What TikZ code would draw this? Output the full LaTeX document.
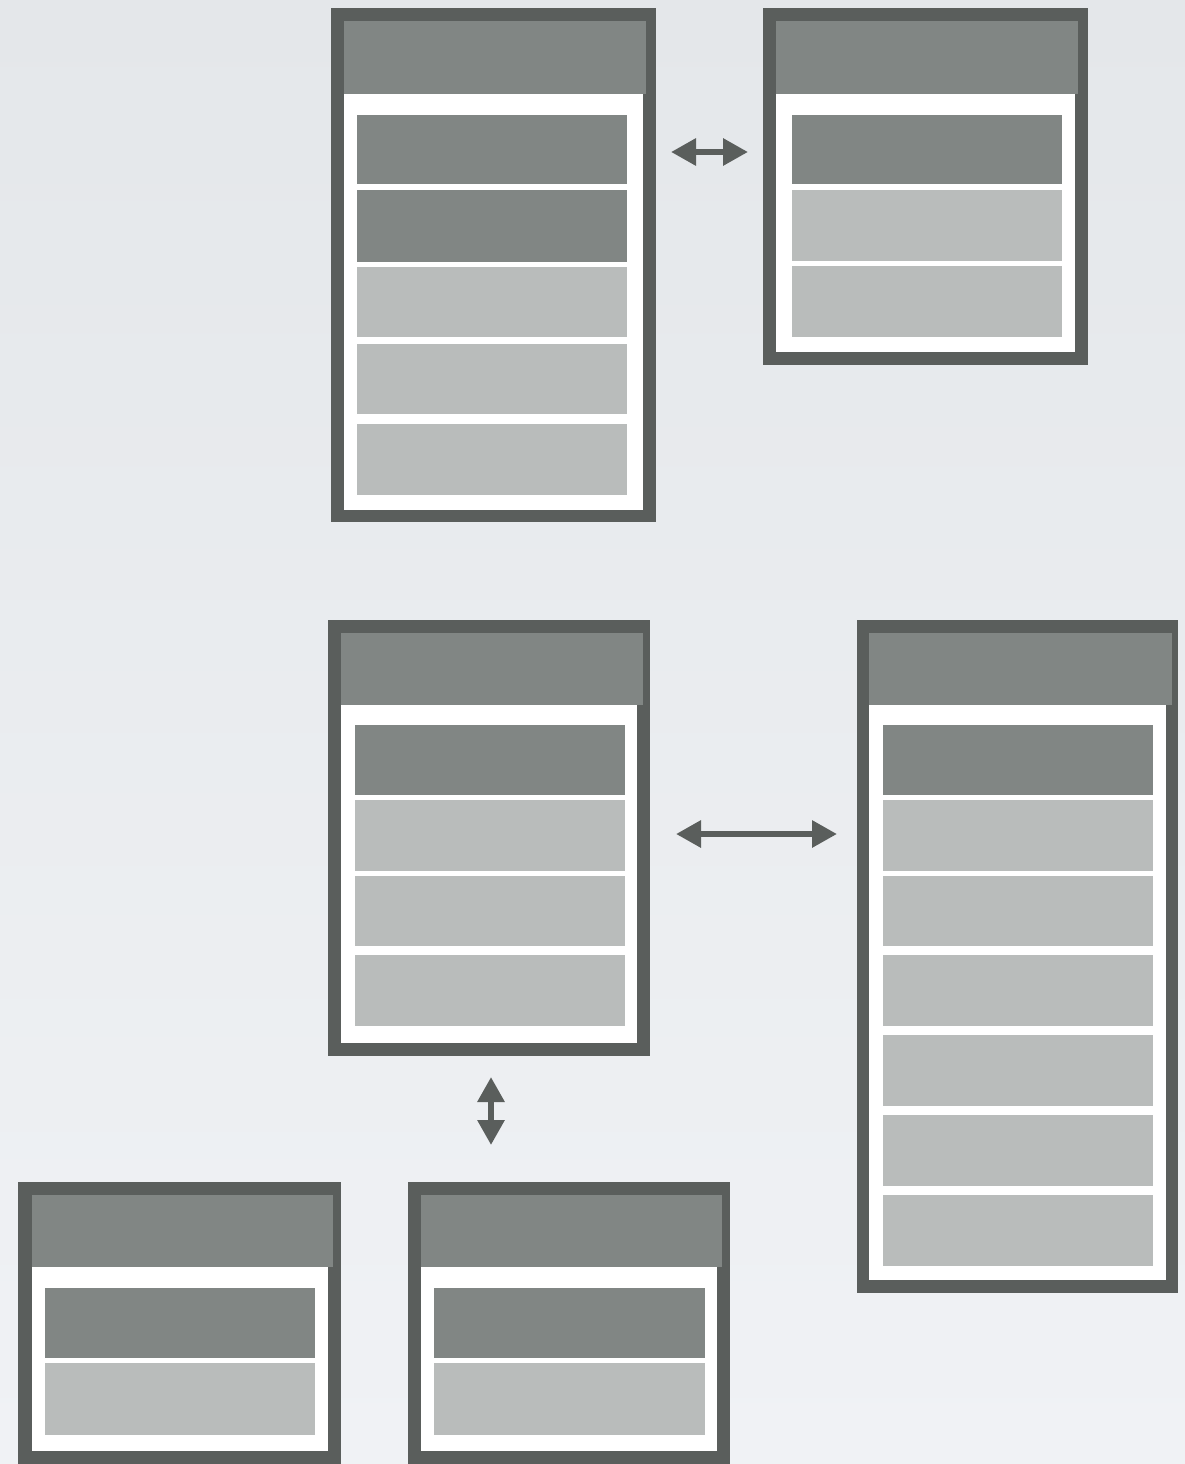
\documentclass[tikz,border=0pt]{standalone}
\usetikzlibrary{arrows.meta}
\definecolor{bgtop}{HTML}{E4E7EA}
\definecolor{bgbot}{HTML}{F0F2F5}
\definecolor{framec}{HTML}{5A5E5C}
\definecolor{darkrow}{HTML}{818684}
\definecolor{lightrow}{HTML}{B9BCBB}
\tikzset{
  blk/.style={rectangle, draw=none, inner sep=0pt, outer sep=0pt},
  frame/.style={blk, fill=framec},
  inner/.style={blk, fill=white},
  header/.style={blk, fill=darkrow},
  drow/.style={blk, fill=darkrow},
  lrow/.style={blk, fill=lightrow},
  conn/.style={draw=framec, line width=6pt,
    {Triangle[length=25pt,width=26pt]}-{Triangle[length=25pt,width=26pt]}}
}
\newcommand{\pbox}[6]{%
  \pgfmathsetmacro{\pbw}{#5-#3}\pgfmathsetmacro{\pbh}{#6-#4}%
  \node[#2, anchor=north west, minimum width=\pbw pt, minimum height=\pbh pt] (#1) at (#3,#4) {};}
\begin{document}
\begin{tikzpicture}[x=1pt,y=-1pt]
\useasboundingbox (0,0) rectangle (1185,1464);
\clip (0,0) rectangle (1185,1464);
\fill[top color=bgtop, bottom color=bgbot] (0,0) rectangle (1185,1464);

% Table 1
\pbox{t1}{frame}{331}{8}{656}{522}
\pbox{t1w}{inner}{344}{21}{643}{510}
\pbox{t1h}{header}{344}{21}{646}{94}
\pbox{t1r1}{drow}{357}{115}{627}{184}
\pbox{t1r2}{drow}{357}{190}{627}{262}
\pbox{t1r3}{lrow}{357}{267}{627}{337}
\pbox{t1r4}{lrow}{357}{344}{627}{414}
\pbox{t1r5}{lrow}{357}{424}{627}{495}

% Table 2
\pbox{t2}{frame}{763}{8}{1088}{365}
\pbox{t2w}{inner}{776}{21}{1075}{352}
\pbox{t2h}{header}{776}{21}{1078}{94}
\pbox{t2r1}{drow}{792}{115}{1062}{184}
\pbox{t2r2}{lrow}{792}{190}{1062}{261}
\pbox{t2r3}{lrow}{792}{266}{1062}{337}

% Table 3
\pbox{t3}{frame}{328}{620}{650}{1056}
\pbox{t3w}{inner}{341}{633}{637}{1043}
\pbox{t3h}{header}{341}{633}{643}{705}
\pbox{t3r1}{drow}{355}{725}{625}{795}
\pbox{t3r2}{lrow}{355}{800}{625}{871}
\pbox{t3r3}{lrow}{355}{876}{625}{946}
\pbox{t3r4}{lrow}{355}{955}{625}{1026}

% Table 4
\pbox{t4}{frame}{857}{620}{1178}{1293}
\pbox{t4w}{inner}{869}{633}{1166}{1280}
\pbox{t4h}{header}{869}{633}{1172}{705}
\pbox{t4r1}{drow}{883}{725}{1153}{795}
\pbox{t4r2}{lrow}{883}{800}{1153}{871}
\pbox{t4r3}{lrow}{883}{876}{1153}{946}
\pbox{t4r4}{lrow}{883}{955}{1153}{1026}
\pbox{t4r5}{lrow}{883}{1035}{1153}{1106}
\pbox{t4r6}{lrow}{883}{1115}{1153}{1186}
\pbox{t4r7}{lrow}{883}{1195}{1153}{1266}

% Table 5
\pbox{t5}{frame}{18}{1182}{341}{1470}
\pbox{t5w}{inner}{32}{1195}{328}{1451}
\pbox{t5h}{header}{32}{1195}{333}{1267}
\pbox{t5r1}{drow}{45}{1288}{315}{1358}
\pbox{t5r2}{lrow}{45}{1363}{315}{1435}

% Table 6
\pbox{t6}{frame}{408}{1182}{730}{1470}
\pbox{t6w}{inner}{421}{1195}{717}{1451}
\pbox{t6h}{header}{421}{1195}{722}{1267}
\pbox{t6r1}{drow}{434}{1288}{705}{1358}
\pbox{t6r2}{lrow}{434}{1363}{705}{1435}

% Connectors
\coordinate (a1s) at (671,152);
\coordinate (a1e) at (748,152);
\coordinate (a2s) at (676,834);
\coordinate (a2e) at (837,834);
\coordinate (a3s) at (491,1077);
\coordinate (a3e) at (491,1145);
\draw[conn] (a1s) -- (a1e);
\draw[conn] (a2s) -- (a2e);
\draw[conn] (a3s) -- (a3e);
\end{tikzpicture}
\end{document}
